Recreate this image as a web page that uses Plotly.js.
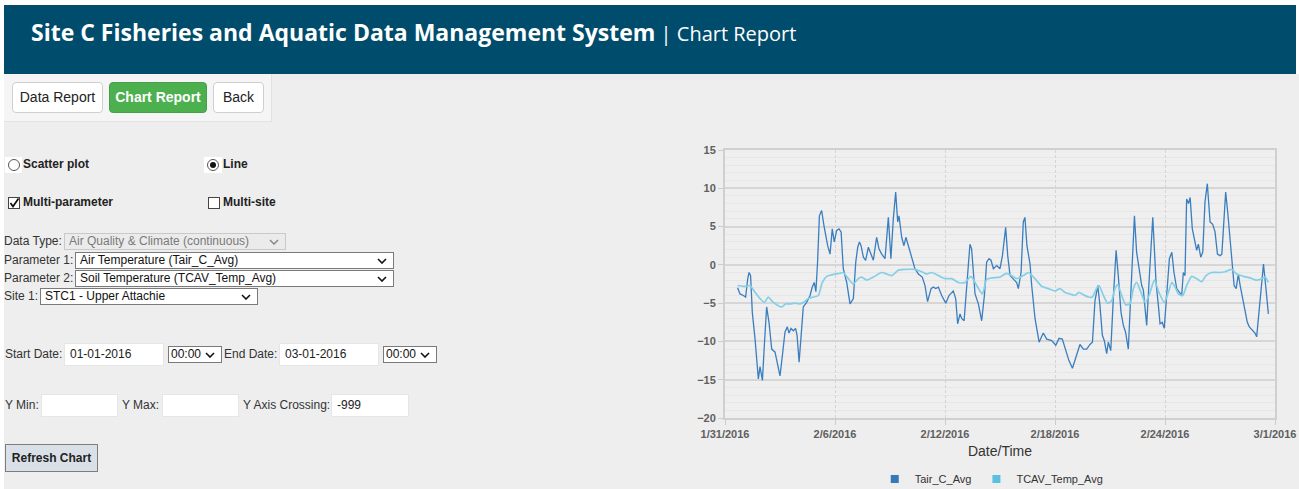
<!DOCTYPE html>
<html>
<head>
<meta charset="utf-8">
<script src="https://cdn.plot.ly/plotly-3.0.1.min.js"></script>
<style>
  html,body{margin:0;padding:0;}
  body{width:1299px;height:489px;overflow:hidden;background:#ffffff;position:relative;font-family:"Liberation Sans",Arial,sans-serif;color:#333;}
  .abs{position:absolute;}
  #header{left:4px;top:5px;width:1292px;height:69px;background:#004c6c;}
  #htitle{left:31px;top:14px;white-space:nowrap;color:#fff;font-family:"Open Sans",sans-serif;line-height:36px;}
  #htitle b{font-weight:700;font-size:23px;}
  #htitle span{font-weight:400;font-size:20px;}
  #main{left:4px;top:74px;width:1295px;height:415px;background:#eeeeee;}
  #panel{left:4px;top:74px;width:268px;height:48px;background:#f5f5f5;border-right:1px solid #e2e2e2;border-bottom:1px solid #e2e2e2;box-sizing:border-box;}
  .btn{box-sizing:border-box;height:31px;top:82px;border:1px solid #cfcfcf;border-radius:4px;background:#fff;font-size:14px;line-height:29px;text-align:center;color:#222;}
  .btn.green{background:#4cb04f;border-color:#46a049;color:#fff;font-weight:700;}
  .lbl{font-size:12px;line-height:14px;white-space:nowrap;color:#333;}
  .blbl{font-size:12px;line-height:14px;white-space:nowrap;font-weight:700;color:#222;}
  .sel{box-sizing:border-box;background:#fff;border:1px solid #7a7a7a;font-size:12px;white-space:nowrap;color:#111;padding-left:4px;}
  .sel.dis{background:#ebebeb;border-color:#c9c9c9;color:#7a7a7a;}
  .sel svg{position:absolute;right:6px;top:50%;margin-top:-3px;}
  .inp{box-sizing:border-box;background:#fff;border:1px solid #e6e6e6;font-size:12px;color:#222;padding-left:5px;white-space:nowrap;}
  .radio{box-sizing:border-box;width:12px;height:12px;border-radius:50%;border:1px solid #555;background:#fff;}
  .radio.on::after{content:"";position:absolute;left:2px;top:2px;width:6px;height:6px;border-radius:50%;background:#111;}
  .chk{box-sizing:border-box;width:12px;height:12px;border:1px solid #444;background:#fff;}
  #refresh{left:5px;top:444px;width:93px;height:28px;box-sizing:border-box;background:#d9e0e7;border:1px solid #7d7d7d;font-size:12px;font-weight:700;line-height:26px;text-align:center;color:#222;}
  #chart{left:680px;top:130px;width:619px;height:359px;}
</style>
</head>
<body>
<div id="header" class="abs"></div>
<div id="htitle" class="abs"><b>Site C Fisheries and Aquatic Data Management System</b><span> | Chart Report</span></div>
<div id="main" class="abs"></div>
<div id="panel" class="abs"></div>
<div class="abs btn" style="left:12px;width:91px;">Data Report</div>
<div class="abs btn green" style="left:109px;width:98px;">Chart Report</div>
<div class="abs btn" style="left:213px;width:51px;">Back</div>

<div class="abs" style="left:5px;top:157px;width:17px;height:16px;background:#fff;"></div>
<div class="abs radio" style="left:8px;top:159px;"></div>
<div class="abs blbl" style="left:23px;top:157px;">Scatter plot</div>
<div class="abs" style="left:204px;top:157px;width:18px;height:16px;background:#fff;"></div>
<div class="abs radio on" style="left:207px;top:159px;"></div>
<div class="abs blbl" style="left:223px;top:157px;">Line</div>

<div class="abs chk" style="left:8px;top:197px;"><svg width="12" height="12" style="position:absolute;left:-1px;top:-1px"><path d="M2.5 6 L5 9.5 L10.5 1.5" stroke="#111" stroke-width="1.8" fill="none"/></svg></div>
<div class="abs blbl" style="left:23px;top:195px;">Multi-parameter</div>
<div class="abs chk" style="left:208px;top:197px;"></div>
<div class="abs blbl" style="left:223px;top:195px;">Multi-site</div>

<div class="abs lbl" style="left:4px;top:234px;">Data Type:</div>
<div class="abs sel dis" style="left:64px;top:233px;width:222px;height:17px;line-height:15px;">Air Quality &amp; Climate (continuous)<svg width="10" height="6"><path d="M1 1 L5 5 L9 1" stroke="#888" stroke-width="1.5" fill="none"/></svg></div>
<div class="abs lbl" style="left:4px;top:253px;">Parameter 1:</div>
<div class="abs sel" style="left:75px;top:252px;width:319px;height:17px;line-height:15px;">Air Temperature (Tair_C_Avg)<svg width="10" height="6"><path d="M1 1 L5 5 L9 1" stroke="#111" stroke-width="1.6" fill="none"/></svg></div>
<div class="abs lbl" style="left:4px;top:271px;">Parameter 2:</div>
<div class="abs sel" style="left:75px;top:270px;width:319px;height:17px;line-height:15px;">Soil Temperature (TCAV_Temp_Avg)<svg width="10" height="6"><path d="M1 1 L5 5 L9 1" stroke="#111" stroke-width="1.6" fill="none"/></svg></div>
<div class="abs lbl" style="left:4px;top:289px;">Site 1:</div>
<div class="abs sel" style="left:40px;top:288px;width:218px;height:17px;line-height:15px;">STC1 - Upper Attachie<svg width="10" height="6"><path d="M1 1 L5 5 L9 1" stroke="#111" stroke-width="1.6" fill="none"/></svg></div>

<div class="abs lbl" style="left:5px;top:347px;">Start Date:</div>
<div class="abs inp" style="left:64px;top:343px;width:100px;height:23px;line-height:21px;">01-01-2016</div>
<div class="abs sel" style="left:168px;top:346px;width:54px;height:17px;line-height:15px;padding-left:2px;">00:00<svg width="10" height="6"><path d="M1 1 L5 5 L9 1" stroke="#111" stroke-width="1.6" fill="none"/></svg></div>
<div class="abs lbl" style="left:224px;top:347px;">End Date:</div>
<div class="abs inp" style="left:279px;top:343px;width:100px;height:23px;line-height:21px;">03-01-2016</div>
<div class="abs sel" style="left:383px;top:346px;width:54px;height:17px;line-height:15px;padding-left:2px;">00:00<svg width="10" height="6"><path d="M1 1 L5 5 L9 1" stroke="#111" stroke-width="1.6" fill="none"/></svg></div>

<div class="abs lbl" style="left:5px;top:398px;">Y Min:</div>
<div class="abs inp" style="left:41px;top:394px;width:77px;height:23px;"></div>
<div class="abs lbl" style="left:122px;top:398px;">Y Max:</div>
<div class="abs inp" style="left:162px;top:394px;width:77px;height:23px;"></div>
<div class="abs lbl" style="left:243px;top:398px;">Y Axis Crossing:</div>
<div class="abs inp" style="left:331px;top:394px;width:78px;height:23px;line-height:21px;">-999</div>

<div id="refresh" class="abs">Refresh Chart</div>

<div id="chart" class="abs"></div>

<script>
// ---- data ----
const seriesNames = ['Tair_C_Avg', 'TCAV_Temp_Avg'];

const tairTimes = [
 '2016-01-31 16:30','2016-01-31 19:40','2016-02-01 00:00','2016-02-01 03:00','2016-02-01 05:45','2016-02-01 07:30','2016-02-01 09:30','2016-02-01 11:45','2016-02-01 15:20','2016-02-01 19:40','2016-02-01 21:50',
 '2016-02-02 01:00','2016-02-02 03:30','2016-02-02 06:30','2016-02-02 09:35','2016-02-02 13:10','2016-02-02 17:30','2016-02-02 21:00',
 '2016-02-03 00:00','2016-02-03 03:10','2016-02-03 06:30','2016-02-03 09:35','2016-02-03 11:45','2016-02-03 14:25','2016-02-03 17:30','2016-02-03 20:25','2016-02-03 22:20',
 '2016-02-04 01:00','2016-02-04 03:35','2016-02-04 06:30','2016-02-04 10:50','2016-02-04 15:20','2016-02-04 18:15','2016-02-04 20:50','2016-02-04 23:00',
 '2016-02-05 01:10','2016-02-05 03:35','2016-02-05 06:30','2016-02-05 09:35','2016-02-05 12:15','2016-02-05 14:25','2016-02-05 17:30','2016-02-05 20:25','2016-02-05 23:00',
 '2016-02-06 02:10','2016-02-06 05:15','2016-02-06 08:00','2016-02-06 10:50','2016-02-06 15:20','2016-02-06 19:40',
 '2016-02-07 00:00','2016-02-07 03:10','2016-02-07 05:45','2016-02-07 08:00','2016-02-07 10:05','2016-02-07 13:10','2016-02-07 16:05','2016-02-07 19:40','2016-02-07 23:00',
 '2016-02-08 02:10','2016-02-08 06:30','2016-02-08 09:35','2016-02-08 13:10','2016-02-08 17:30','2016-02-08 21:50',
 '2016-02-09 01:10','2016-02-09 04:20','2016-02-09 07:25','2016-02-09 10:05','2016-02-09 11:45','2016-02-09 15:20','2016-02-09 18:15','2016-02-09 20:50',
 '2016-02-10 00:00','2016-02-10 04:20','2016-02-10 08:40','2016-02-10 13:10','2016-02-10 18:15','2016-02-10 21:50',
 '2016-02-11 01:10','2016-02-11 05:45','2016-02-11 08:40','2016-02-11 11:45','2016-02-11 15:20','2016-02-11 19:40',
 '2016-02-12 01:00','2016-02-12 05:15','2016-02-12 10:50','2016-02-12 14:00','2016-02-12 16:35','2016-02-12 19:40','2016-02-12 21:50',
 '2016-02-13 01:00','2016-02-13 04:20','2016-02-13 08:40','2016-02-13 10:50','2016-02-13 15:20','2016-02-13 19:40',
 '2016-02-14 00:00','2016-02-14 03:35','2016-02-14 06:30','2016-02-14 09:35','2016-02-14 12:15','2016-02-14 15:20','2016-02-14 19:40',
 '2016-02-15 00:00','2016-02-15 03:10','2016-02-15 07:25','2016-02-15 10:05','2016-02-15 13:10','2016-02-15 17:30','2016-02-15 21:50',
 '2016-02-16 00:00','2016-02-16 03:35','2016-02-16 06:30','2016-02-16 08:40','2016-02-16 11:15','2016-02-16 15:20','2016-02-16 17:30','2016-02-16 21:50',
 '2016-02-17 03:10','2016-02-17 08:40','2016-02-17 13:10','2016-02-17 19:40',
 '2016-02-18 01:00','2016-02-18 05:15','2016-02-18 09:35','2016-02-18 14:00','2016-02-18 18:15','2016-02-18 22:50',
 '2016-02-19 03:10','2016-02-19 08:40','2016-02-19 13:10','2016-02-19 17:30','2016-02-19 21:50',
 '2016-02-20 01:00','2016-02-20 04:20','2016-02-20 08:00','2016-02-20 10:50','2016-02-20 14:00','2016-02-20 16:35','2016-02-20 19:40','2016-02-20 21:50',
 '2016-02-21 01:00','2016-02-21 04:20','2016-02-21 08:00','2016-02-21 10:50','2016-02-21 14:25','2016-02-21 17:30','2016-02-21 20:25','2016-02-21 21:50',
 '2016-02-22 00:00','2016-02-22 03:35','2016-02-22 08:00','2016-02-22 10:50','2016-02-22 14:00','2016-02-22 17:30','2016-02-22 19:40',
 '2016-02-23 00:00','2016-02-23 03:35','2016-02-23 08:00','2016-02-23 10:05','2016-02-23 12:15','2016-02-23 15:20','2016-02-23 17:30','2016-02-23 20:25','2016-02-23 23:00',
 '2016-02-24 02:10','2016-02-24 05:45','2016-02-24 08:55','2016-02-24 11:45','2016-02-24 15:20','2016-02-24 18:40','2016-02-24 21:50',
 '2016-02-25 00:00','2016-02-25 02:10','2016-02-25 04:20','2016-02-25 06:45','2016-02-25 08:55','2016-02-25 11:45','2016-02-25 14:25','2016-02-25 17:30','2016-02-25 19:40','2016-02-25 22:50',
 '2016-02-26 01:25','2016-02-26 04:20','2016-02-26 07:25','2016-02-26 11:00','2016-02-26 14:25','2016-02-26 17:30','2016-02-26 20:40',
 '2016-02-27 00:00','2016-02-27 02:25','2016-02-27 05:15','2016-02-27 07:25','2016-02-27 10:05','2016-02-27 13:10','2016-02-27 15:20','2016-02-27 18:30','2016-02-27 21:10',
 '2016-02-28 00:00','2016-02-28 02:25','2016-02-28 05:45','2016-02-28 08:55','2016-02-28 11:45','2016-02-28 14:25','2016-02-28 18:40','2016-02-28 21:50',
 '2016-02-29 00:00','2016-02-29 03:35','2016-02-29 06:45','2016-02-29 08:55','2016-02-29 11:45','2016-02-29 15:20'
];
const tairValues = [
 -3.0,-3.8,-4.0,-4.2,-1.8,-1.0,-1.4,-6.2,-9.7,-14.9,-13.3,
 -15.1,-10.5,-5.5,-7.5,-11.0,-11.4,-12.9,
 -14.5,-11.8,-8.8,-8.1,-8.9,-8.3,-8.6,-8.3,-9.2,
 -12.7,-8.8,-5.5,-4.9,-4.0,-2.9,-2.3,-3.5,
 0.35,6.4,7.1,5.1,3.4,2.5,1.4,4.7,3.0,
 4.5,4.7,4.3,-0.5,-2.3,-5.1,
 -4.4,0.35,2.3,3.0,2.5,1.0,0.6,2.3,1.4,
 0.6,3.6,2.1,1.4,0.8,6.2,
 0.8,6.0,9.5,5.6,6.4,3.6,2.5,3.6,
 2.5,0.8,-0.5,-1.2,-1.6,-2.7,
 -4.8,-3.1,-2.9,-3.1,-2.9,-4.0,
 -5.0,-4.0,-3.4,-4.4,-7.7,-6.4,-7.0,
 -7.3,-2.7,2.7,2.1,-3.8,-5.1,
 -7.3,-4.0,0.35,0.8,0.6,-0.5,-0.1,
 -0.5,1.2,4.9,1.2,-1.4,-1.8,-2.3,
 -3.1,-1.0,5.6,6.2,2.5,0.1,-2.7,-7.0,
 -10.1,-8.9,-9.7,-9.9,
 -10.5,-9.6,-9.7,-11.0,-12.5,-13.5,
 -12.0,-10.4,-11.0,-11.0,-10.4,
 -10.1,-4.7,-2.7,-5.3,-9.2,-9.9,-11.6,-10.1,
 -11.2,-4.4,1.9,-1.4,-6.2,-7.9,-8.8,-9.7,
 -11.0,-3.1,6.4,1.65,-0.5,-2.7,-3.3,
 -7.9,-1.4,6.2,2.1,-2.3,-5.3,-7.7,-7.5,-8.3,
 -4.0,0.8,1.65,-1.0,-3.1,-3.6,-4.0,
 -1.0,-1.4,8.6,8.0,8.8,4.7,3.4,1.9,2.7,1.0,
 1.65,8.2,10.6,5.6,5.3,4.3,1.4,
 1.2,1.4,6.9,9.5,6.9,3.4,-0.1,-2.7,-3.1,
 -1.2,-2.7,-4.4,-6.2,-7.5,-8.1,-8.6,-8.9,
 -9.4,-5.3,-1.4,0.1,-2.7,-6.4
];

const soilTimes = [
 '2016-01-31 16:30','2016-02-01 00:00','2016-02-01 04:20','2016-02-01 08:40','2016-02-01 15:20','2016-02-01 21:50',
 '2016-02-02 03:35','2016-02-02 08:40','2016-02-02 13:10','2016-02-02 19:40',
 '2016-02-03 02:10','2016-02-03 07:25','2016-02-03 13:10','2016-02-03 19:40',
 '2016-02-04 01:00','2016-02-04 06:30','2016-02-04 13:10','2016-02-04 19:40',
 '2016-02-05 02:10','2016-02-05 07:25','2016-02-05 13:10','2016-02-05 19:40',
 '2016-02-06 00:00','2016-02-06 06:30','2016-02-06 10:50','2016-02-06 17:30',
 '2016-02-07 00:00','2016-02-07 06:30','2016-02-07 10:50','2016-02-07 17:30',
 '2016-02-08 02:10','2016-02-08 13:10','2016-02-08 19:40',
 '2016-02-09 02:10','2016-02-09 10:50','2016-02-09 19:40',
 '2016-02-10 08:40','2016-02-10 17:30',
 '2016-02-11 00:00','2016-02-11 06:30','2016-02-11 15:20',
 '2016-02-12 00:00','2016-02-12 08:40','2016-02-12 17:30',
 '2016-02-13 02:10','2016-02-13 10:05','2016-02-13 17:30',
 '2016-02-14 01:00','2016-02-14 06:30','2016-02-14 13:10',
 '2016-02-15 00:00','2016-02-15 08:40','2016-02-15 15:20','2016-02-15 21:50',
 '2016-02-16 06:30','2016-02-16 13:10','2016-02-16 21:50',
 '2016-02-17 06:30','2016-02-17 15:20',
 '2016-02-18 00:00','2016-02-18 06:30','2016-02-18 13:10','2016-02-18 19:40',
 '2016-02-19 02:10','2016-02-19 07:25','2016-02-19 13:10','2016-02-19 19:40',
 '2016-02-20 01:00','2016-02-20 05:15','2016-02-20 09:35','2016-02-20 15:20','2016-02-20 21:00',
 '2016-02-21 02:10','2016-02-21 06:30','2016-02-21 10:05','2016-02-21 15:20','2016-02-21 20:25',
 '2016-02-22 02:10','2016-02-22 06:30','2016-02-22 10:50','2016-02-22 16:35','2016-02-22 21:50',
 '2016-02-23 03:10','2016-02-23 10:05','2016-02-23 16:05','2016-02-23 23:00',
 '2016-02-24 04:20','2016-02-24 08:55','2016-02-24 13:10','2016-02-24 17:30','2016-02-24 23:15',
 '2016-02-25 04:20','2016-02-25 11:00','2016-02-25 17:30',
 '2016-02-26 00:00','2016-02-26 05:45','2016-02-26 13:10','2016-02-26 21:50',
 '2016-02-27 06:45','2016-02-27 15:20','2016-02-27 21:50',
 '2016-02-28 06:45','2016-02-28 15:20',
 '2016-02-29 00:00','2016-02-29 06:45','2016-02-29 11:00','2016-02-29 15:20'
];
const soilValues = [
 -2.7,-2.8,-2.8,-2.7,-3.6,-4.4,
 -4.9,-4.2,-4.7,-5.2,
 -5.5,-5.1,-5.1,-5.0,
 -5.1,-4.9,-4.4,-4.2,
 -4.0,-2.3,-1.5,-1.3,
 -1.2,-1.1,-1.0,-1.8,
 -2.5,-1.8,-1.6,-2.0,
 -1.6,-1.0,-1.2,
 -1.4,-0.7,-0.6,
 -0.6,-0.9,
 -1.2,-1.0,-1.4,
 -1.8,-1.8,-2.3,
 -2.3,-1.5,-2.7,
 -3.8,-1.9,-1.7,
 -1.6,-1.1,-1.4,-1.8,
 -1.4,-1.0,-1.8,
 -2.8,-3.1,
 -3.4,-3.1,-3.6,-3.8,
 -4.0,-3.6,-3.9,-4.2,
 -4.2,-3.3,-2.7,-4.0,-5.0,
 -4.7,-3.1,-2.6,-4.0,-5.2,
 -5.1,-3.1,-2.3,-3.6,-4.9,
 -4.0,-2.0,-3.6,-4.9,
 -3.6,-2.3,-2.9,-3.8,-4.0,
 -2.7,-1.5,-1.8,
 -2.2,-1.4,-1.0,-1.0,
 -0.9,-0.6,-1.2,
 -1.5,-1.7,
 -2.0,-1.8,-1.6,-2.3
];

const xTickDates  = ['2016-01-31','2016-02-06','2016-02-12','2016-02-18','2016-02-24','2016-03-01'];
const xTickLabels = ['1/31/2016','2/6/2016','2/12/2016','2/18/2016','2/24/2016','3/1/2016'];
const yTickValues = [-20,-15,-10,-5,0,5,10,15];

const colors = ['#3a7ebf', '#84cfe7'];
const legendColors = ['#337ab7', '#5bc0de'];

// ---- chart ----
const traces = [
  {x: tairTimes, y: tairValues, name: seriesNames[0], type: 'scatter', mode: 'lines',
   line: {color: colors[0], width: 1.3}, showlegend: false},
  {x: soilTimes, y: soilValues, name: seriesNames[1], type: 'scatter', mode: 'lines',
   line: {color: colors[1], width: 1.7, shape: 'spline', smoothing: 0.6}, showlegend: false},
  {x: [null], y: [null], name: seriesNames[0], type: 'scatter', mode: 'markers',
   marker: {symbol: 'square', size: 8, color: legendColors[0]}},
  {x: [null], y: [null], name: seriesNames[1], type: 'scatter', mode: 'markers',
   marker: {symbol: 'square', size: 8, color: legendColors[1]}}
];

const layout = {
  width: 619, height: 359,
  margin: {l: 45, r: 24, t: 20, b: 71, autoexpand: false},
  paper_bgcolor: 'rgba(0,0,0,0)',
  plot_bgcolor: '#efefef',
  font: {family: '"Liberation Sans", Arial, sans-serif', color: '#333'},
  showlegend: true,
  legend: {orientation: 'h', x: 0.485, xanchor: 'center', y: -0.228, yanchor: 'middle',
           font: {size: 11, color: '#333'}, itemwidth: 30, bgcolor: 'rgba(0,0,0,0)'},
  xaxis: {
    type: 'date',
    range: ['2016-01-31 00:00', '2016-03-01 00:00'],
    tickmode: 'array', tickvals: xTickDates, ticktext: xTickLabels,
    showgrid: true, gridcolor: '#d4d4d4', griddash: '3px,2px', gridwidth: 1,
    showline: true, linecolor: '#d0d0d0', linewidth: 2, mirror: true,
    ticks: 'outside', ticklen: 5, tickcolor: '#cccccc', tickwidth: 1,
    tickfont: {size: 11, color: '#606060', weight: 'bold'},
    title: {text: 'Date/Time', font: {size: 14, color: '#333'}, standoff: 7},
    zeroline: false, fixedrange: true, automargin: false
  },
  yaxis: {
    range: [-20, 15],
    tickmode: 'array', tickvals: yTickValues,
    showgrid: true, gridcolor: '#d6d6d6', gridwidth: 2,
    minor: {dtick: 1, showgrid: true, gridcolor: '#e6e6e6', gridwidth: 1},
    showline: true, linecolor: '#d0d0d0', linewidth: 2, mirror: true,
    ticks: 'outside', ticklen: 5, tickcolor: '#cccccc', tickwidth: 1,
    tickfont: {size: 11, color: '#606060', weight: 'bold'},
    zeroline: false, fixedrange: true, automargin: false
  }
};

Plotly.newPlot('chart', traces, layout, {displayModeBar: false, staticPlot: true});
</script>
</body>
</html>
